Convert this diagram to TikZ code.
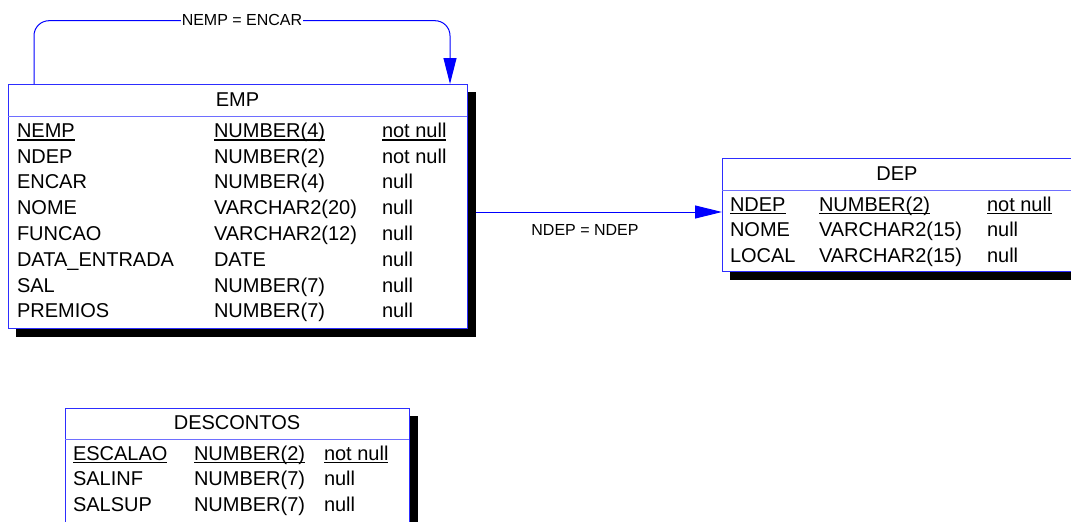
\documentclass[tikz,border=0pt]{standalone}
\usepackage{fontspec}
\setmainfont{Liberation Sans}
\usetikzlibrary{arrows.meta}
\definecolor{tblue}{RGB}{45,45,255}
\definecolor{sepblue}{RGB}{110,110,255}
\definecolor{cblue}{RGB}{0,0,255}
\newcommand{\keyul}[1]{\setbox0\hbox{#1}\rlap{\rule[-3.2pt]{\wd0}{1.7pt}}\box0}
\begin{document}
\begin{tikzpicture}[x=1pt,y=-1pt,
  tbl/.style={draw=tblue, fill=white, line width=1pt, anchor=north west, inner sep=0pt, outer sep=0pt},
  shadowbox/.style={fill=black, anchor=north west, inner sep=0pt, outer sep=0pt},
  sepline/.style={draw=sepblue, line width=1pt},
  cell/.style={inner sep=0pt, outer sep=0pt, anchor=base west, font=\fontsize{20pt}{24pt}\selectfont},
  head/.style={inner sep=0pt, outer sep=0pt, anchor=base, font=\fontsize{20pt}{24pt}\selectfont},
  lbl/.style={inner sep=0pt, anchor=base, font=\fontsize{16pt}{19pt}\selectfont},
  conn/.style={draw=cblue, line width=1pt}]
\useasboundingbox (0,0) rectangle (1071,522);
\clip (0,0) rectangle (1071,522);

% ---------- EMP ----------
\node[shadowbox, minimum width=460pt, minimum height=245pt] (empsh) at (16,92) {};
\node[tbl, minimum width=459pt, minimum height=244pt] (emp) at (8,84) {};
\draw[sepline] (8,116) -- (467,116);
\node[head] (emph) at (237.5,106) {EMP};
\node[cell] (empk1) at (17,137.3) {\keyul{NEMP}};
\node[cell] (empk2) at (214,137.3) {\keyul{NUMBER(4)}};
\node[cell] (empk3) at (382,137.3) {\keyul{not null}};
\foreach \a/\b/\c [count=\i] in {NDEP/NUMBER(2)/not null, ENCAR/NUMBER(4)/null,
    NOME/VARCHAR2(20)/null, FUNCAO/VARCHAR2(12)/null, DATA\_ENTRADA/DATE/null,
    SAL/NUMBER(7)/null, PREMIOS/NUMBER(7)/null}{
  \node[cell] (empa\i) at (17,137.3+25.8*\i) {\a};
  \node[cell] (empb\i) at (214,137.3+25.8*\i) {\b};
  \node[cell] (empc\i) at (382,137.3+25.8*\i) {\c};
}

% ---------- DEP ----------
\node[shadowbox, minimum width=350pt, minimum height=113pt] (depsh) at (730,166.5) {};
\node[tbl, minimum width=350pt, minimum height=113pt] (dep) at (722,158) {};
\draw[sepline] (722,190) -- (1072,190);
\node[head] (deph) at (897,180.7) {DEP};
\node[cell] (depk1) at (730,211) {\keyul{NDEP}};
\node[cell] (depk2) at (819,211) {\keyul{NUMBER(2)}};
\node[cell] (depk3) at (987,211) {\keyul{not null}};
\foreach \a/\b/\c [count=\i] in {NOME/VARCHAR2(15)/null, LOCAL/VARCHAR2(15)/null}{
  \node[cell] (depa\i) at (730,211+25.5*\i) {\a};
  \node[cell] (depb\i) at (819,211+25.5*\i) {\b};
  \node[cell] (depc\i) at (987,211+25.5*\i) {\c};
}

% ---------- DESCONTOS ----------
\node[shadowbox, minimum width=345pt, minimum height=140pt] (dessh) at (73,416) {};
\node[tbl, minimum width=344pt, minimum height=140pt] (des) at (65,408) {};
\draw[sepline] (65,439) -- (409,439);
\node[head] (desh) at (237,429) {DESCONTOS};
\node[cell] (desk1) at (73,460) {\keyul{ESCALAO}};
\node[cell] (desk2) at (194,460) {\keyul{NUMBER(2)}};
\node[cell] (desk3) at (324,460) {\keyul{not null}};
\foreach \a/\b/\c [count=\i] in {SALINF/NUMBER(7)/null, SALSUP/NUMBER(7)/null}{
  \node[cell] (desa\i) at (73,460+25.5*\i) {\a};
  \node[cell] (desb\i) at (194,460+25.5*\i) {\b};
  \node[cell] (desc\i) at (324,460+25.5*\i) {\c};
}

% ---------- connectors ----------
\coordinate (ly) at (0,212);
\draw[conn, -{Triangle[length=27pt,width=13pt]}] (empsh.east |- ly) -- (dep.west |- ly);
\node[lbl] (l2) at (585,235) {NDEP = NDEP};

\coordinate (lt) at (34,20.7);
\coordinate (rt) at (450,20.7);
\draw[conn, rounded corners=15pt, -{Triangle[length=26pt,width=13pt]}]
  (emp.north -| lt) -- (lt) -- (rt) -- (emp.north -| rt);
\node[lbl, fill=white, inner xsep=1pt, inner ysep=1pt] (l1) at (242,25) {NEMP = ENCAR};
\end{tikzpicture}
\end{document}
